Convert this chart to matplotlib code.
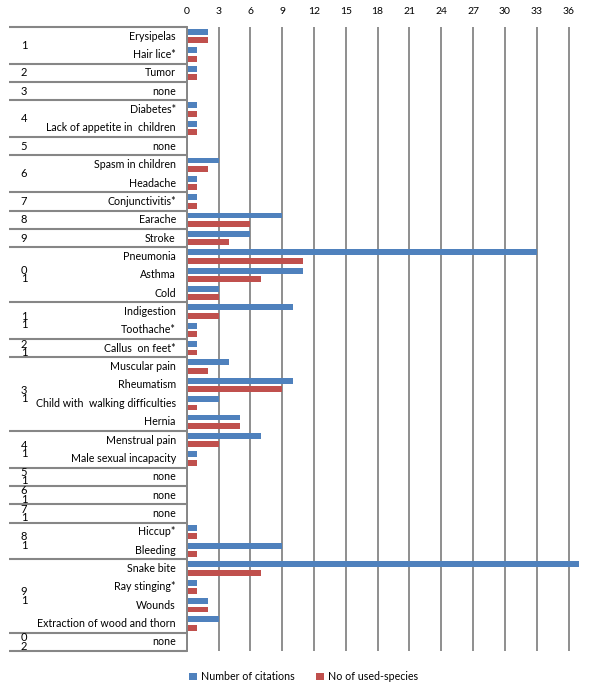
import numpy as np
import matplotlib
matplotlib.use("Agg")
import matplotlib.pyplot as plt

plt.rcParams['font.family'] = ['Lato', 'DejaVu Sans']

# one entry per row of the chart
ailments = ["Erysipelas", "Hair lice*", "Tumor", "none", "Diabetes*",
            "Lack of appetite in  children", "none", "Spasm in children", "Headache",
            "Conjunctivitis*", "Earache", "Stroke", "Pneumonia", "Asthma", "Cold",
            "Indigestion", "Toothache*", "Callus  on feet*", "Muscular pain",
            "Rheumatism", "Child with  walking difficulties", "Hernia",
            "Menstrual pain", "Male sexual incapacity", "none", "none", "none",
            "Hiccup*", "Bleeding", "Snake bite", "Ray stinging*", "Wounds",
            "Extraction of wood and thorn", "none"]
groups = [1, 1, 2, 3, 4, 4, 5, 6, 6, 7, 8, 9, 10, 10, 10, 11, 11, 12, 13, 13, 13, 13,
          14, 14, 15, 16, 17, 18, 18, 19, 19, 19, 19, 20]
citations = [2, 1, 1, 0, 1, 1, 0, 3, 1, 1, 9, 6, 33, 11, 3, 10, 1, 1, 4, 10, 3, 5,
             7, 1, 0, 0, 0, 1, 9, 37, 1, 2, 3, 0]
species = [2, 1, 1, 0, 1, 1, 0, 2, 1, 1, 6, 4, 11, 7, 3, 3, 1, 1, 2, 9, 1, 5,
           3, 1, 0, 0, 0, 1, 1, 7, 1, 2, 1, 0]
xticks = list(range(0, 37, 3))

blue = '#4F81BD'
red = '#C0504D'
grey = '#868686'

fig = plt.figure(figsize=(5.91, 6.92), dpi=100)
ax = fig.add_axes([0.316, 0.059, 0.664, 0.902])

y = np.arange(len(ailments))
ax.barh(y - 0.23, citations, height=0.32, color=blue, label='Number of citations')
ax.barh(y + 0.23, species, height=0.32, color=red, label='No of used-species')

ax.set_xlim(0, 37)
ax.set_ylim(len(ailments) - 0.5, -0.5)
ax.set_xticks(xticks)
ax.xaxis.tick_top()
ax.tick_params(axis='x', length=0, pad=8, labelsize=7.5)
ax.set_yticks([])
ax.grid(axis='x', color=grey, lw=1.3)
ax.set_axisbelow(True)
for s in ['top', 'right', 'bottom']:
    ax.spines[s].set_visible(False)
ax.spines['left'].set_color(grey)
ax.spines['left'].set_linewidth(1.4)

tr = ax.get_yaxis_transform()
x_left = -0.453

# ailment labels
for i, name in enumerate(ailments):
    ax.text(-0.028, i, name, transform=tr, ha='right', va='center', fontsize=7.7)

# group separators and group numbers
g = np.array(groups)
bounds = [0] + [i for i in range(1, len(g)) if g[i] != g[i - 1]] + [len(g)]
for b in bounds:
    ax.plot([x_left, 0], [b - 0.5, b - 0.5], transform=tr, clip_on=False,
            color=grey, lw=1.5, solid_capstyle='butt')
for a, b in zip(bounds[:-1], bounds[1:]):
    c = (a + b - 1) / 2
    num = str(g[a])
    if len(num) > 1:
        # Excel stacks the two digits, last one on top
        num = num[1] + '\n' + num[0]
    ax.text(-0.415, c, num, transform=tr, ha='center', va='center',
            fontsize=8, linespacing=0.7)

fig.legend(loc='center', bbox_to_anchor=(0.514, 0.022), ncol=2, frameon=False,
           fontsize=7.7, handlelength=0.7, handleheight=0.7, handletextpad=0.4,
           columnspacing=2.0)

fig.savefig('out.png', dpi=100)
